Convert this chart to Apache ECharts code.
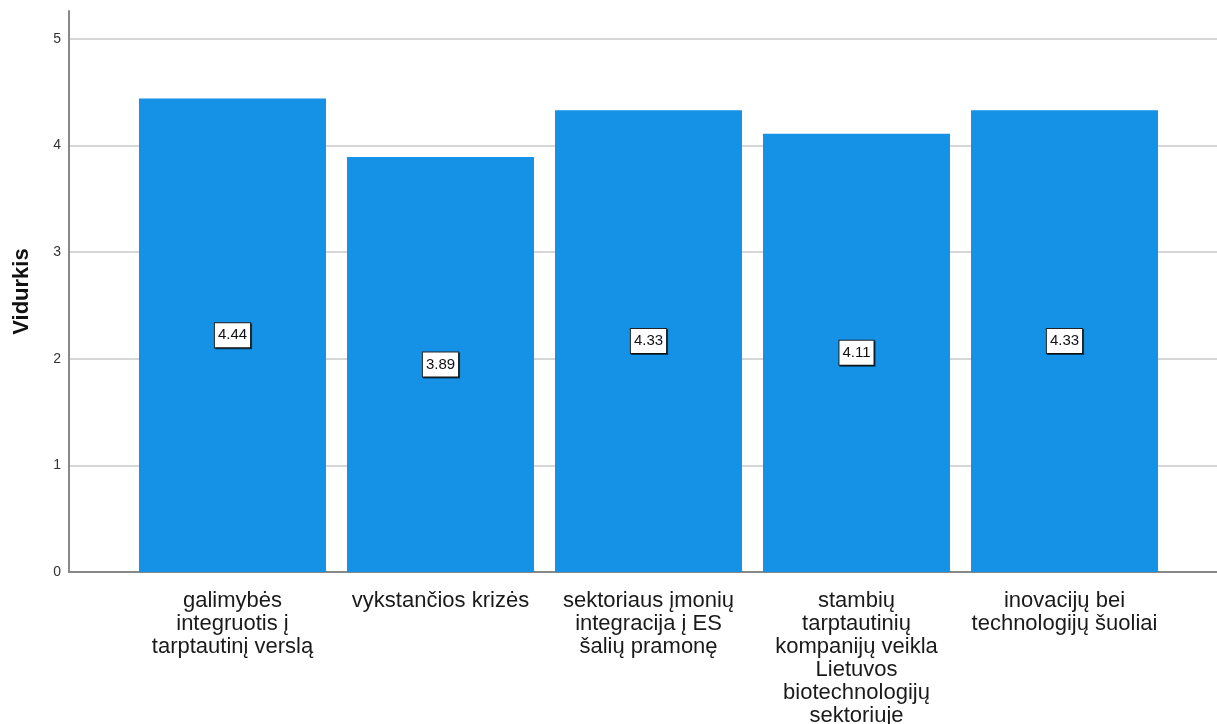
<!DOCTYPE html>
<html><head><meta charset="utf-8">
<script src="https://cdn.jsdelivr.net/npm/echarts@6/dist/echarts.min.js"></script>
<style>html,body{margin:0;padding:0;background:#fff}#c{width:1217px;height:724px}</style>
</head><body><div id="c"></div>
<script>
const categories = ["galimybės\nintegruotis į\ntarptautinį verslą","vykstančios krizės","sektoriaus įmonių\nintegracija į ES\nšalių pramonę","stambių\ntarptautinių\nkompanijų veikla\nLietuvos\nbiotechnologijų\nsektoriuje","inovacijų bei\ntechnologijų šuoliai"];
const values = [4.44, 3.89, 4.33, 4.11, 4.33];
const yTicks = [0,1,2,3,4,5];
const yTitle = "Vidurkis";

const chart = echarts.init(document.getElementById('c'));
const TOP = 11, BOTTOM = 152, YMAX = 5.26;
chart.setOption({
  animation:false,
  textStyle:{fontFamily:'Liberation Sans, Arial, sans-serif'},
  grid:[
    {left:69,right:0,top:TOP,bottom:BOTTOM,containLabel:false,outerBoundsMode:'none'},
    {left:128.5,right:48.5,top:TOP,bottom:BOTTOM,containLabel:false,outerBoundsMode:'none'}
  ],
  xAxis:[
    {gridIndex:0,type:'value',min:0,max:1,show:true,axisLine:{show:true,onZero:false,lineStyle:{color:'#888',width:2}},axisTick:{show:false},axisLabel:{show:false},splitLine:{show:false}},
    {gridIndex:1,type:'category',data:categories,axisLine:{show:false},axisTick:{show:false},
     axisLabel:{interval:0,color:'#1a1a1a',fontSize:22,lineHeight:23,margin:17,align:'center'}}
  ],
  yAxis:[
    {gridIndex:0,type:'value',min:0,max:YMAX,interval:1,
     name:yTitle,nameLocation:'middle',nameGap:36,nameTextStyle:{fontSize:22,fontWeight:'bold',color:'#111'},
     axisLine:{show:true,lineStyle:{color:'#888',width:2}},axisTick:{show:false},
     axisLabel:{color:'#333',fontSize:14,margin:8,showMaxLabel:false,formatter:v=>yTicks.includes(v)?String(v):''},
     splitLine:{show:true,showMinLine:false,showMaxLine:false,lineStyle:{color:'#d6d6d6',width:2}}},
    {gridIndex:1,type:'value',min:0,max:YMAX,show:false,splitLine:{show:false}}
  ],
  series:[{
    type:'bar',xAxisIndex:1,yAxisIndex:1,data:values,barWidth:187,
    itemStyle:{color:'#1591e6'},
    label:{show:true,position:'inside',formatter:p=>p.value.toFixed(2),color:'#111',fontSize:15,
      backgroundColor:'#fff',borderColor:'#222',borderWidth:1,padding:[5,3,4,3],
      shadowColor:'rgba(0,0,0,0.6)',shadowOffsetX:1,shadowOffsetY:1,shadowBlur:0}
  }]
});
</script></body></html>
